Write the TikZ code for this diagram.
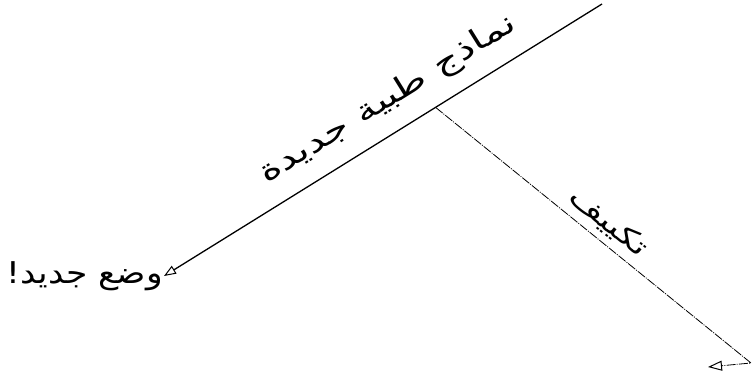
\documentclass[tikz,border=0pt]{standalone}
\usepackage{fontspec}
\usetikzlibrary{arrows.meta,positioning,calc}
\TeXXeTstate=1
\newfontfamily\arabicfont[Script=Arabic]{DejaVu Sans}
\tikzset{
  mainln/.style={line width=1.3pt, -{Triangle[open, length=12pt, width=9pt, line width=1pt]}},
  branchln/.style={line width=0.8pt, dash pattern=on 9pt off 1.2pt on 1pt off 1.2pt, -{Triangle[open, length=14pt, width=10pt, line width=1pt]}},
  lbl/.style={font=\arabicfont\fontsize{30}{34}\selectfont, inner sep=1pt},
}

\begin{document}
\begin{tikzpicture}[x=1pt,y=-1pt]
  \useasboundingbox (0,0) rectangle (752,378);
  \coordinate (top) at (602,4);
  \node[lbl, anchor=east] (new) at (164,276) {\scalebox{1.15}[1]{\beginR وضع جديد!\endR}};
  \coordinate (fork) at ($(new.east)!0.62!(top)$);
  \coordinate (bend) at (751,363);
  \coordinate (fin) at (708,367);
  % main line with its label
  \draw[mainln] (top) -- (new.east)
    node[lbl, pos=0.45, sloped, above=15pt] (models) {\scalebox{1.35}[1]{\beginR نماذج طبية جديدة\endR}};
  % branch
  \draw[branchln] (fork) -- (bend) -- (fin);
  \path (fork) -- (bend)
    node[lbl, pos=0.51, sloped, above=6pt] (adapt) {\scalebox{1.25}[0.9]{\beginR تكييف\endR}};
\end{tikzpicture}
\end{document}
